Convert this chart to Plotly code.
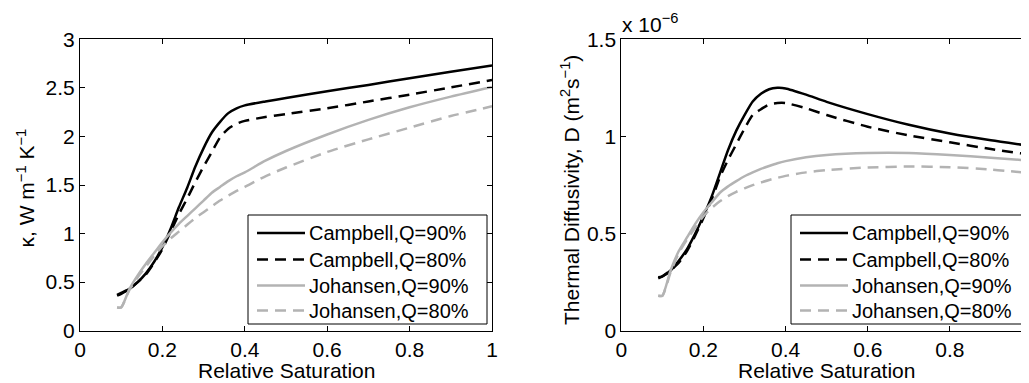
import plotly.graph_objects as go

# ---------------- data ----------------
saturation = [0.09, 0.10, 0.12, 0.14, 0.16, 0.18, 0.20, 0.22, 0.24, 0.26, 0.28, 0.30,
              0.32, 0.34, 0.36, 0.38, 0.40, 0.45, 0.50, 0.60, 0.70, 0.80, 0.90, 1.00]

# thermal conductivity kappa, W m^-1 K^-1
kappa_campbell_90 = [0.37, 0.39, 0.43, 0.50, 0.59, 0.71, 0.86, 1.05, 1.27, 1.47, 1.69, 1.88,
                     2.04, 2.15, 2.24, 2.29, 2.32, 2.36, 2.395, 2.465, 2.53, 2.60, 2.665, 2.73]
kappa_campbell_80 = [0.36, 0.38, 0.43, 0.50, 0.58, 0.70, 0.84, 1.02, 1.20, 1.36, 1.53, 1.69,
                     1.84, 1.99, 2.08, 2.13, 2.16, 2.20, 2.23, 2.29, 2.36, 2.43, 2.505, 2.58]
kappa_johansen_90 = [0.24, 0.24, 0.43, 0.57, 0.69, 0.80, 0.91, 1.01, 1.10, 1.18, 1.26, 1.34,
                     1.42, 1.48, 1.54, 1.59, 1.63, 1.75, 1.85, 2.02, 2.17, 2.30, 2.41, 2.51]
kappa_johansen_80 = [0.24, 0.24, 0.42, 0.55, 0.66, 0.77, 0.87, 0.95, 1.02, 1.09, 1.16, 1.22,
                     1.28, 1.34, 1.39, 1.44, 1.48, 1.59, 1.68, 1.84, 1.97, 2.09, 2.21, 2.31]

# thermal diffusivity D, in units of 1e-6 m^2 s^-1
diff_campbell_90 = [0.275, 0.28, 0.31, 0.36, 0.42, 0.50, 0.59, 0.69, 0.81, 0.93, 1.03, 1.11,
                    1.18, 1.22, 1.243, 1.25, 1.247, 1.215, 1.178, 1.115, 1.06, 1.015, 0.98, 0.95]
diff_campbell_80 = [0.27, 0.28, 0.31, 0.35, 0.41, 0.49, 0.58, 0.675, 0.79, 0.88, 0.96, 1.04,
                    1.11, 1.14, 1.165, 1.172, 1.172, 1.145, 1.11, 1.05, 1.005, 0.97, 0.935, 0.905]
diff_johansen_90 = [0.18, 0.18, 0.31, 0.41, 0.48, 0.55, 0.61, 0.66, 0.71, 0.743, 0.77, 0.795,
                    0.815, 0.833, 0.848, 0.862, 0.873, 0.893, 0.905, 0.915, 0.915, 0.905, 0.89, 0.875]
diff_johansen_80 = [0.18, 0.18, 0.30, 0.40, 0.47, 0.53, 0.59, 0.632, 0.666, 0.693, 0.715, 0.733,
                    0.749, 0.763, 0.776, 0.787, 0.797, 0.815, 0.827, 0.840, 0.845, 0.842, 0.83, 0.81]

series_names = ["Campbell,Q=90%", "Campbell,Q=80%", "Johansen,Q=90%", "Johansen,Q=80%"]
x_ticks = [0, 0.2, 0.4, 0.6, 0.8, 1]
kappa_ticks = [0, 0.5, 1, 1.5, 2, 2.5, 3]
diff_ticks = [0, 0.5, 1, 1.5]
x_title = "Relative Saturation"
kappa_title = "κ, W m<sup>−1</sup> K<sup>−1</sup>"
diff_title = "Thermal Diffusivity, D (m<sup>2</sup>s<sup>−1</sup>)"
diff_scale_label = "x 10<sup>−6</sup>"

# ---------------- styles / layout helpers ----------------
BLACK = "#000000"
GRAY = "#b3b3b3"
DASH = "11px,7px"
styles = [
    dict(color=BLACK, dash="solid"),
    dict(color=BLACK, dash=DASH),
    dict(color=GRAY, dash="solid"),
    dict(color=GRAY, dash=DASH),
]
FONT = "Liberation Sans, Arial, Helvetica, sans-serif"
FS = 21
LEG_FS = 20
# page has an 8px body margin, so the figure is 8px smaller and offset
OFF = 8
W, H = 1029 - OFF, 383 - OFF


def px(sx):
    return (sx - OFF) / W


def py(sy):
    return (383 - sy) / H


def txt_font(size=FS):
    return dict(family=FONT, size=size, color=BLACK)


fig = go.Figure()
left_sets = [kappa_campbell_90, kappa_campbell_80, kappa_johansen_90, kappa_johansen_80]
right_sets = [diff_campbell_90, diff_campbell_80, diff_johansen_90, diff_johansen_80]
for name, ys, st in zip(series_names, left_sets, styles):
    fig.add_trace(go.Scatter(x=saturation, y=ys, name=name, mode="lines", showlegend=False,
                             line=dict(color=st["color"], dash=st["dash"], width=2.5,
                                       shape="spline", smoothing=0.6),
                             xaxis="x", yaxis="y"))
for name, ys, st in zip(series_names, right_sets, styles):
    fig.add_trace(go.Scatter(x=saturation, y=ys, name=name, mode="lines", showlegend=False,
                             line=dict(color=st["color"], dash=st["dash"], width=2.5,
                                       shape="spline", smoothing=0.6),
                             xaxis="x2", yaxis="y2"))

axis_common = dict(showgrid=False, zeroline=False, showline=True, linecolor=BLACK,
                   linewidth=1, ticks="inside", ticklen=5, tickcolor=BLACK, tickwidth=1,
                   tickfont=txt_font(), automargin=False)

ydom = [py(330.7), py(39.3)]

# ---------------- legend boxes (drawn as decorations) ----------------
shapes = []
annotations = []
row_y = [233, 259.5, 285.5, 310.5]
for box_left, box_right in [(248, 487), (791, 1026)]:
    shapes.append(dict(type="rect", xref="paper", yref="paper",
                       x0=px(box_left), x1=px(box_right), y0=py(324), y1=py(215),
                       line=dict(color=BLACK, width=1), fillcolor="white", layer="above"))
    for name, st, ry in zip(series_names, styles, row_y):
        shapes.append(dict(type="line", xref="paper", yref="paper",
                           x0=px(box_left + 9), x1=px(box_left + 57), y0=py(ry), y1=py(ry),
                           line=dict(color=st["color"], dash=st["dash"], width=2.5),
                           layer="above"))
        annotations.append(dict(text=name, xref="paper", yref="paper",
                                x=px(box_left + 59), y=py(ry), xanchor="left",
                                yanchor="middle", showarrow=False, font=txt_font(LEG_FS)))

# axis titles
for xr in ["x", "x2"]:
    annotations.append(dict(text=x_title, xref=xr, yref="paper", x=0.5, y=py(370),
                            xanchor="center", yanchor="middle", showarrow=False,
                            font=txt_font()))
annotations.append(dict(text=kappa_title, xref="paper", yref="paper", x=px(25.5), y=py(188),
                        xanchor="center", yanchor="middle", textangle=-90,
                        showarrow=False, font=txt_font()))
annotations.append(dict(text=diff_title, xref="paper", yref="paper", x=px(570), y=py(190),
                        xanchor="center", yanchor="middle", textangle=-90,
                        showarrow=False, font=txt_font()))
# scale factor label of the right axis
annotations.append(dict(text=diff_scale_label, xref="paper", yref="paper",
                        x=px(620), y=py(38), xanchor="left", yanchor="bottom",
                        showarrow=False, font=txt_font()))

fig.update_layout(
    width=W, height=H,
    margin=dict(l=0, r=0, t=0, b=0),
    paper_bgcolor="white", plot_bgcolor="white",
    font=txt_font(),
    showlegend=False,
    xaxis=dict(domain=[px(80), px(492)], range=[0, 1], tickvals=x_ticks, mirror="ticks",
               anchor="y", **axis_common),
    yaxis=dict(domain=ydom, range=[0, 3], tickvals=kappa_ticks, mirror="ticks", anchor="x",
               **axis_common),
    xaxis2=dict(domain=[px(621.3), 1.0], range=[0, (1029 - 621.3) / 410.7], tickvals=x_ticks,
                mirror="ticks", anchor="y2", **axis_common),
    yaxis2=dict(domain=ydom, range=[0, 1.5], tickvals=diff_ticks, mirror=False, anchor="x2",
                **axis_common),
    shapes=shapes,
    annotations=annotations,
)

fig.write_html("out.html")
